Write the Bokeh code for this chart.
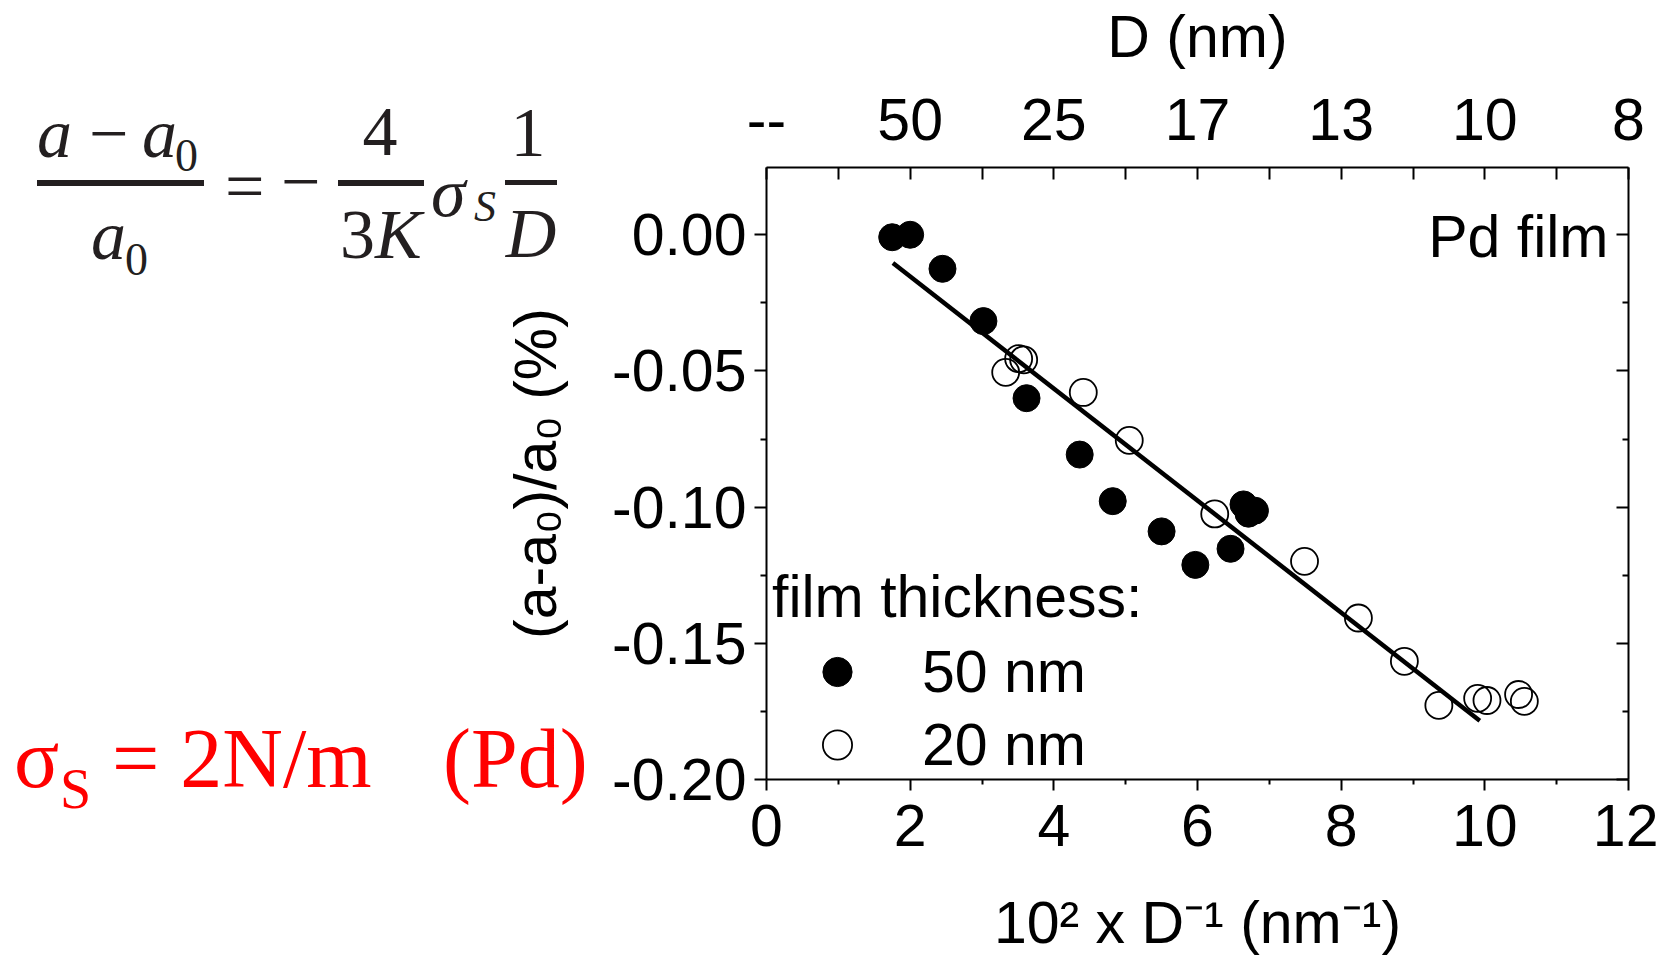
from bokeh.plotting import figure
from bokeh.models import (LinearAxis, FixedTicker, PrintfTickFormatter, Legend, LegendItem,
                          Label, Range1d, GridBox, Div)
from bokeh.embed import file_html
from bokeh.resources import INLINE

# ---------------- data ----------------
x_50nm = [1.75, 2.00, 2.45, 3.02, 3.62, 4.36, 4.82, 5.50, 5.97, 6.46, 6.64, 6.71, 6.80]
y_50nm = [-0.0009, 0.0000, -0.0125, -0.0317, -0.0600, -0.0807, -0.0978, -0.1089, -0.1212,
          -0.1153, -0.0990, -0.1024, -0.1013]
x_20nm = [3.33, 3.51, 3.58, 4.41, 5.05, 6.24, 7.49, 8.24, 8.88, 9.36, 9.90, 10.03, 10.47, 10.55]
y_20nm = [-0.0505, -0.0455, -0.0459, -0.0579, -0.0755, -0.1025, -0.1199, -0.1407, -0.1566,
          -0.1728, -0.1702, -0.1710, -0.1688, -0.1713]
fit_x = [1.76, 9.93]
fit_y = [-0.0104, -0.1784]

x_ticks = [0, 2, 4, 6, 8, 10, 12]
x_minor = [1, 3, 5, 7, 9, 11]
y_ticks = [-0.20, -0.15, -0.10, -0.05, 0.00]
y_minor = [-0.175, -0.125, -0.075, -0.025]
top_labels = ["--", "50", "25", "17", "13", "10", "8"]

SANS = "Liberation Sans"
FS = "59px"
INK = "#231f20"
RED = "#ff0000"

# ---------------- main chart ----------------
p = figure(width=1658, height=960, x_range=Range1d(0, 12), y_range=Range1d(-0.2, 0.0247),
           output_backend="svg", toolbar_location=None,
           min_border_left=766, min_border_right=30, min_border_top=166, min_border_bottom=181,
           x_axis_label="10\u00b2 x D\u207b\u00b9 (nm\u207b\u00b9)",
           y_axis_label="(a-a\u2080)/a\u2080 (%)")
p.xgrid.visible = False
p.ygrid.visible = False
p.outline_line_color = None
p.background_fill_color = "white"
p.border_fill_color = None


def style(ax):
    ax.axis_line_width = 2
    ax.axis_line_color = "black"
    ax.major_tick_line_width = 2
    ax.minor_tick_line_width = 2
    ax.major_tick_line_color = "black"
    ax.minor_tick_line_color = "black"
    ax.major_label_text_font = SANS
    ax.major_label_text_font_size = FS
    ax.major_label_text_color = "black"
    ax.axis_label_text_font = SANS
    ax.axis_label_text_font_size = FS
    ax.axis_label_text_font_style = "normal"
    ax.axis_label_text_color = "black"


bottom = p.xaxis[0]
style(bottom)
bottom.ticker = FixedTicker(ticks=x_ticks, minor_ticks=x_minor)
bottom.major_tick_out = 11
bottom.major_tick_in = 0
bottom.minor_tick_out = 5
bottom.minor_tick_in = 0
bottom.major_label_standoff = 14
bottom.axis_label_standoff = 41

left = p.yaxis[0]
style(left)
left.ticker = FixedTicker(ticks=y_ticks, minor_ticks=y_minor)
left.formatter = PrintfTickFormatter(format="%.2f")
left.major_tick_out = 12
left.major_tick_in = 0
left.minor_tick_out = 6
left.minor_tick_in = 0
left.major_label_standoff = 8
left.axis_label_standoff = 40

top = LinearAxis(ticker=FixedTicker(ticks=x_ticks, minor_ticks=x_minor),
                 major_label_overrides=dict(zip(x_ticks, top_labels)),
                 axis_label="D (nm)")
style(top)
top.major_tick_in = 12
top.major_tick_out = 0
top.minor_tick_in = 12
top.minor_tick_out = 0
top.major_label_standoff = 28
top.axis_label_standoff = 26
p.add_layout(top, "above")

right = LinearAxis(ticker=FixedTicker(ticks=y_ticks, minor_ticks=y_minor),
                   major_label_overrides={t: "" for t in y_ticks})
style(right)
right.major_tick_in = 12
right.major_tick_out = 0
right.minor_tick_in = 6
right.minor_tick_out = 0
right.major_label_standoff = 0
p.add_layout(right, "right")

r20 = p.scatter(x_20nm, y_20nm, marker="circle", size=27, fill_color=None,
                line_color="black", line_width=1.8)
r50 = p.scatter(x_50nm, y_50nm, marker="circle", size=27, fill_color="black",
                line_color="black")
p.line(fit_x, fit_y, line_width=4.5, line_color="black")

legend = Legend(items=[LegendItem(label="50 nm", renderers=[r50]),
                       LegendItem(label="20 nm", renderers=[r20])],
                title="film thickness:", location=(6, -2),
                glyph_width=130, glyph_height=73, spacing=0, label_standoff=20,
                padding=0, margin=0, border_line_color=None, background_fill_alpha=0,
                label_text_font=SANS, label_text_font_size=FS, label_text_color="black",
                title_text_font=SANS, title_text_font_size=FS, title_text_font_style="normal",
                title_text_color="black", title_standoff=4)
p.add_layout(legend)

p.add_layout(Label(x=842, y=543, x_units="screen", y_units="screen", text="Pd film",
                   text_font=SANS, text_font_size=FS, text_color="black",
                   text_align="right", text_baseline="alphabetic"))

# ---------------- equation + value (HTML text laid over the left margin) ----------------
parts = []
DX = -6  # horizontal nudge of the whole left-hand text block


def put(text, px, base, size, color, italic=False, center=False):
    top_px = base - 0.8375 * size
    shift = "transform:translateX(-50%);" if center else ""
    parts.append(
        f'<span style="position:absolute;left:{px + DX}px;top:{top_px:.1f}px;{shift}'
        f"font-family:'Liberation Serif','Times New Roman',serif;font-size:{size}px;"
        f'line-height:{size}px;font-style:{"italic" if italic else "normal"};'
        f'color:{color};white-space:pre;">{text}</span>')


def bar(x0, x1, y0, y1):
    parts.append(f'<div style="position:absolute;left:{x0 + DX}px;top:{y0}px;'
                 f'width:{x1 - x0}px;height:{y1 - y0}px;background:{INK};"></div>')


put("a", 38, 153, 70, INK, italic=True)
put("\u2212", 90, 153, 70, INK)
put("a", 143, 153, 70, INK, italic=True)
put("0", 176, 166, 46, INK)
bar(38, 205, 175, 181)
put("a", 92, 255, 70, INK, italic=True)
put("0", 126, 270, 46, INK)
put("=", 226, 206, 70, INK)
put("\u2212", 282, 201, 70, INK)
put("4", 381, 151, 70, INK, center=True)
bar(339, 425, 175, 181)
put("3", 341, 254, 70, INK)
put("K", 376, 254, 70, INK, italic=True)
put("\u03c3", 432, 212, 70, INK, italic=True)
put("S", 475, 217, 44, INK, italic=True)
put("1", 529, 152, 70, INK, center=True)
bar(506, 558, 175, 180)
put("D", 532, 253, 70, INK, italic=True, center=True)

put("\u03c3", 15, 782, 84, RED)
put("S", 61, 803, 56, RED)
put("= 2N/m", 113, 782, 84, RED)
put("(Pd)", 444, 782, 84, RED)

html = ('<div style="position:relative;width:1666px;height:962px;pointer-events:none;">'
        + "".join(parts) + "</div>")
overlay = Div(text=html, width=1666, height=962)

layout = GridBox(children=[(p, 0, 0), (overlay, 0, 0)])
open("out.html", "w").write(file_html(layout, INLINE))
